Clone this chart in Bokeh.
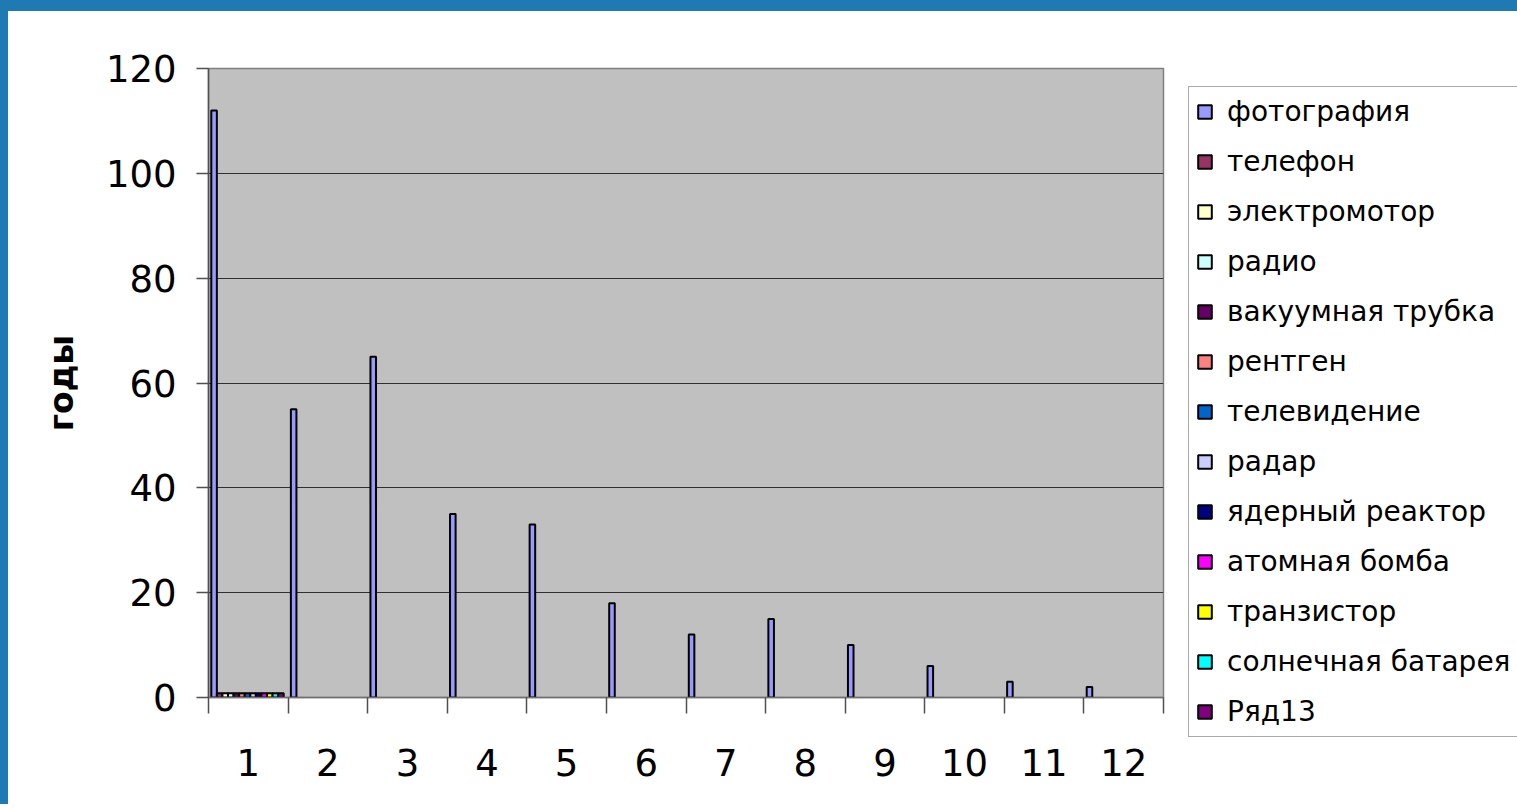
from bokeh.plotting import figure
from bokeh.models import Range1d, FixedTicker, Legend, LegendItem
from bokeh.layouts import row
from bokeh.embed import file_html
from bokeh.resources import INLINE

# ---- data ----
categories = ["1", "2", "3", "4", "5", "6", "7", "8", "9", "10", "11", "12"]
series_names = ["фотография", "телефон", "электромотор", "радио", "вакуумная трубка",
                "рентген", "телевидение", "радар", "ядерный реактор", "атомная бомба",
                "транзистор", "солнечная батарея", "Ряд13"]
series_colors = ["#9999FF", "#993366", "#FFFFCC", "#CCFFFF", "#660066", "#FF8080",
                 "#0066CC", "#CCCCFF", "#000080", "#FF00FF", "#FFFF00", "#00FFFF", "#800080"]
photo = [112, 55, 65, 35, 33, 18, 12, 15, 10, 6, 3, 2]
phone = [0.8, 0, 0, 0, 0, 0, 0, 0, 0, 0, 0, 0]
motor = [0.8, 0, 0, 0, 0, 0, 0, 0, 0, 0, 0, 0]
radio = [0.8, 0, 0, 0, 0, 0, 0, 0, 0, 0, 0, 0]
tube = [0.8, 0, 0, 0, 0, 0, 0, 0, 0, 0, 0, 0]
xray = [0.8, 0, 0, 0, 0, 0, 0, 0, 0, 0, 0, 0]
tv = [0.8, 0, 0, 0, 0, 0, 0, 0, 0, 0, 0, 0]
radar = [0.8, 0, 0, 0, 0, 0, 0, 0, 0, 0, 0, 0]
reactor = [0.8, 0, 0, 0, 0, 0, 0, 0, 0, 0, 0, 0]
bomb = [0.8, 0, 0, 0, 0, 0, 0, 0, 0, 0, 0, 0]
transistor = [0.8, 0, 0, 0, 0, 0, 0, 0, 0, 0, 0, 0]
solar = [0.8, 0, 0, 0, 0, 0, 0, 0, 0, 0, 0, 0]
row13 = [0.8, 0, 0, 0, 0, 0, 0, 0, 0, 0, 0, 0]
y_ticks = [0, 20, 40, 60, 80, 100, 120]
y_label = "годы"

all_series = [photo, phone, motor, radio, tube, xray, tv, radar, reactor, bomb,
              transistor, solar, row13]

FONT = "DejaVu Sans"
BLUE = "#1f7ab4"
H = 793

# ---- main chart ----
p = figure(width=1172, height=H, output_backend="svg", toolbar_location=None,
           x_range=Range1d(0.5, len(categories) + 0.5), y_range=Range1d(0, 120),
           min_border_left=200, min_border_right=17, min_border_top=57,
           min_border_bottom=107)
p.frame_align = False
p.background_fill_color = "#C0C0C0"
p.border_fill_color = "#FFFFFF"
p.outline_line_color = "#808080"
p.outline_line_width = 1.5

slot = 0.07
lead = 0.035
cat_pos = list(range(1, len(categories) + 1))
for i, (color, vals) in enumerate(zip(series_colors, all_series)):
    xs = [c - 0.5 + lead + (i + 0.5) * slot for c in cat_pos]
    xs_kept = [x for x, v in zip(xs, vals) if v > 0]
    v_kept = [v for v in vals if v > 0]
    p.vbar(x=xs_kept, top=v_kept, bottom=0, width=slot,
           fill_color=color, line_color="#000000", line_width=2)

# x axis
p.xaxis.ticker = FixedTicker(ticks=cat_pos, minor_ticks=[c - 0.5 for c in cat_pos] + [len(cat_pos) + 0.5])
p.xaxis.major_label_overrides = {c: lab for c, lab in zip(cat_pos, categories)}
p.xaxis.major_tick_line_color = None
p.xaxis.major_tick_out = 0
p.xaxis.major_tick_in = 0
p.xaxis.minor_tick_line_color = "#505050"
p.xaxis.minor_tick_out = 16
p.xaxis.minor_tick_in = 0
p.xaxis.minor_tick_line_width = 1.5
p.xaxis.axis_line_color = "#707070"
p.xaxis.axis_line_width = 1.5
p.xaxis.major_label_text_font = FONT
p.xaxis.major_label_text_font_size = "37px"
p.xaxis.major_label_text_color = "#000000"
p.xaxis.major_label_standoff = 35

# y axis
p.yaxis.ticker = FixedTicker(ticks=y_ticks, minor_ticks=[])
p.yaxis.major_tick_out = 12
p.yaxis.major_tick_in = 0
p.yaxis.major_tick_line_color = "#505050"
p.yaxis.major_tick_line_width = 1.5
p.yaxis.axis_line_color = "#505050"
p.yaxis.axis_line_width = 1.5
p.yaxis.major_label_text_font = FONT
p.yaxis.major_label_text_font_size = "37px"
p.yaxis.major_label_text_color = "#000000"
p.yaxis.major_label_standoff = 20
p.yaxis.axis_label = y_label
p.yaxis.axis_label_text_font = FONT
p.yaxis.axis_label_text_font_size = "33px"
p.yaxis.axis_label_text_font_style = "bold"
p.yaxis.axis_label_text_color = "#000000"
p.yaxis.axis_label_standoff = 22

p.xgrid.grid_line_color = None
p.ygrid.ticker = FixedTicker(ticks=y_ticks)
p.ygrid.grid_line_color = "#303030"
p.ygrid.grid_line_width = 1.2

# ---- legend panel (own frame so the legend box is not clipped) ----
pl = figure(width=337, height=H, output_backend="svg", toolbar_location=None,
            x_range=Range1d(0, 1), y_range=Range1d(0, 1),
            x_axis_location=None, y_axis_location=None, min_border=0)
pl.frame_align = False
pl.grid.visible = False
pl.outline_line_color = None
pl.background_fill_color = "#FFFFFF"
pl.border_fill_color = "#FFFFFF"
items = []
for name, color in zip(series_names, series_colors):
    # swatch-only renderer, tiny and hidden under the opaque legend box
    r = pl.vbar(x=[0.5], top=[0.501], bottom=0.5, width=0.001,
                fill_color=color, line_color="#000000", line_width=2)
    items.append(LegendItem(label=name, renderers=[r]))

legend = Legend(items=items, location=(8, 67), orientation="vertical")
legend.label_text_font = FONT
legend.label_text_font_size = "28px"
legend.label_text_color = "#000000"
legend.label_height = 35
legend.glyph_height = 17
legend.glyph_width = 17
legend.spacing = 15
legend.padding = 7
legend.margin = 0
legend.label_standoff = 14
legend.border_line_color = "#555555"
legend.border_line_width = 1.5
legend.background_fill_color = "#FFFFFF"
legend.background_fill_alpha = 1.0
pl.add_layout(legend, "center")

layout = row(p, pl, spacing=0,
             styles={"border-top": "11px solid " + BLUE, "border-left": "8px solid " + BLUE})

open("out.html", "w").write(file_html(layout, INLINE))
